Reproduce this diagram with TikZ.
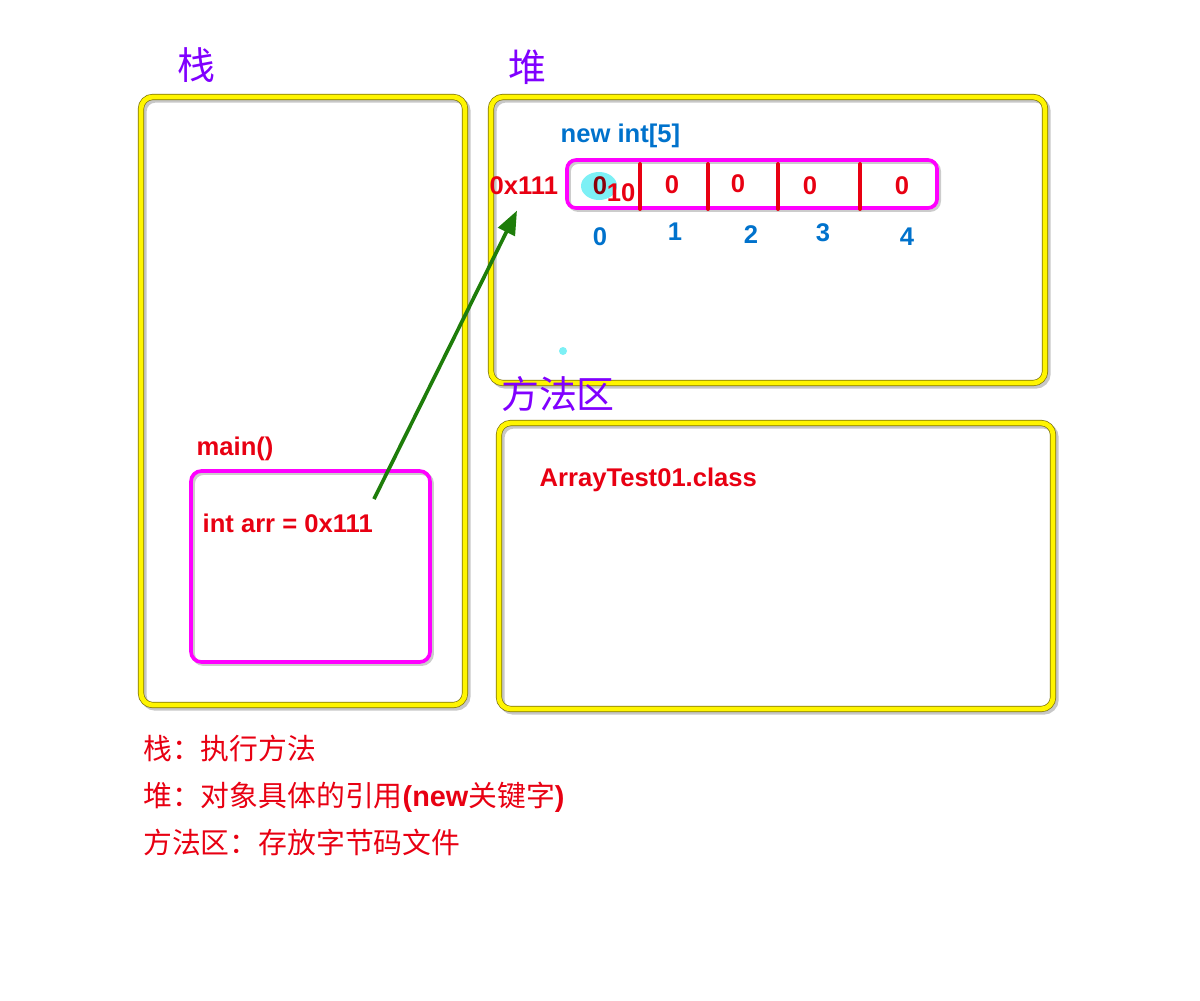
\documentclass[tikz,border=0pt]{standalone}
\usepackage{fontspec}
\setmainfont{Liberation Sans}
\newfontfamily\cjk{Noto Sans CJK SC}
\usetikzlibrary{arrows.meta,positioning,calc}
\definecolor{memyellow}{RGB}{255,245,0}
\definecolor{memolive}{RGB}{125,115,10}
\definecolor{memmagenta}{RGB}{255,0,255}
\definecolor{memred}{RGB}{232,0,18}
\definecolor{memdark}{RGB}{140,0,10}
\definecolor{memblue}{RGB}{0,114,204}
\definecolor{memviolet}{RGB}{128,0,255}
\definecolor{memgreen}{RGB}{30,125,10}
\definecolor{memcyan}{RGB}{125,240,245}
\tikzset{
  membox/.style={draw=memolive,line width=4.4pt,rounded corners=8.5pt,
                 preaction={draw=black!22,line width=4.4pt,transform canvas={shift={(1.8pt,-1.8pt)}}},
                 postaction={draw=memyellow,line width=3.4pt}},
  frame/.style={draw=memmagenta,line width=2.6pt,rounded corners=7.5pt,
                preaction={draw=black!20,line width=2.6pt,transform canvas={shift={(1.5pt,-1.5pt)}}}},
  area/.style={font=\cjk\fontsize{27}{30}\selectfont,text=memviolet,inner sep=0pt},
  lbl/.style={font=\bfseries\fontsize{18.2}{21}\selectfont,text=memred,inner sep=1pt},
  idx/.style={lbl,text=memblue},
  note/.style={font=\fontsize{20.5}{24}\selectfont,text=memred,inner sep=0pt,anchor=west},
  divider/.style={draw=memred,line width=2.8pt,line cap=round},
  ptrarrow/.style={-{Triangle[length=17pt,width=13pt]},draw=memgreen,line width=2.6pt,shorten >=11pt},
}
\begin{document}
\begin{tikzpicture}[x=0.025cm,y=-0.025cm]
\useasboundingbox (0,0) rectangle (1200,1000);

% ============ the three memory areas ============
\node[membox,minimum width=8.1cm,minimum height=15.2cm] (stack) at (303,401) {};
\node[membox,minimum width=13.85cm,minimum height=7.15cm] (heap) at (768,240) {};
\node[membox,minimum width=13.85cm,minimum height=7.15cm] (method) at (776,566) {};
\node[area] (stacktitle) at (196,65) {栈};
\node[area] (heaptitle) at (527,67) {堆};

% ============ stack: frame of main() ============
\node[lbl,anchor=west] (mainlbl) at (195,449) {main()};
\node[frame,minimum width=5.975cm,minimum height=4.775cm] (mainframe) at (310.5,566.5) {};
\node[lbl,anchor=west] (decl) at (201,523) {int arr = 0x111};
\coordinate (ptr) at (374,499);

% ============ heap: the array object ============
\node[idx,anchor=west] (newlbl) at (559,136) {new int[5]};
\node[lbl,anchor=west] (addr) at (488,186) {0x111};
\node[frame,rounded corners=6.5pt,minimum width=9.25cm,minimum height=1.2cm] (arr) at (752,184) {};
\fill[memcyan] (599,186) ellipse [x radius=18,y radius=14];
\fill[memcyan] (563,351) circle [radius=4];
\foreach \x in {640,708,778,860} { \draw[divider] (\x,164) -- (\x,209); }
\node[lbl,text=memdark] (cell0) at (600,186) {0};
\node[lbl] (newval) at (621,193) {10};
\foreach \i/\x/\y in {1/672/185, 2/738/184, 3/810/186, 4/902/186} {
  \node[lbl] (cell\i) at (\x,\y) {0};
}
\foreach \i/\x/\y in {0/600/237, 1/675/232, 2/751/235, 3/823/233, 4/907/237} {
  \node[idx] (pos\i) at (\x,\y) {\i};
}
\draw[ptrarrow] (ptr) -- (addr.south);

% ============ method area ============
\node[area] (methodtitle) at (558,394) {方法区};
\node[lbl,anchor=west] (cls) at (538,480) {ArrayTest01.class};

% ============ legend ============
\node[note] (n1) at (143,748) {\cjk 栈：执行方法};
\node[note] (n2) at (143,797) {{\cjk 堆：对象具体的引用}\textbf{(new}{\cjk 关键字}\textbf{)}};
\node[note] (n3) at (143,842) {\cjk 方法区：存放字节码文件};
\end{tikzpicture}
\end{document}
